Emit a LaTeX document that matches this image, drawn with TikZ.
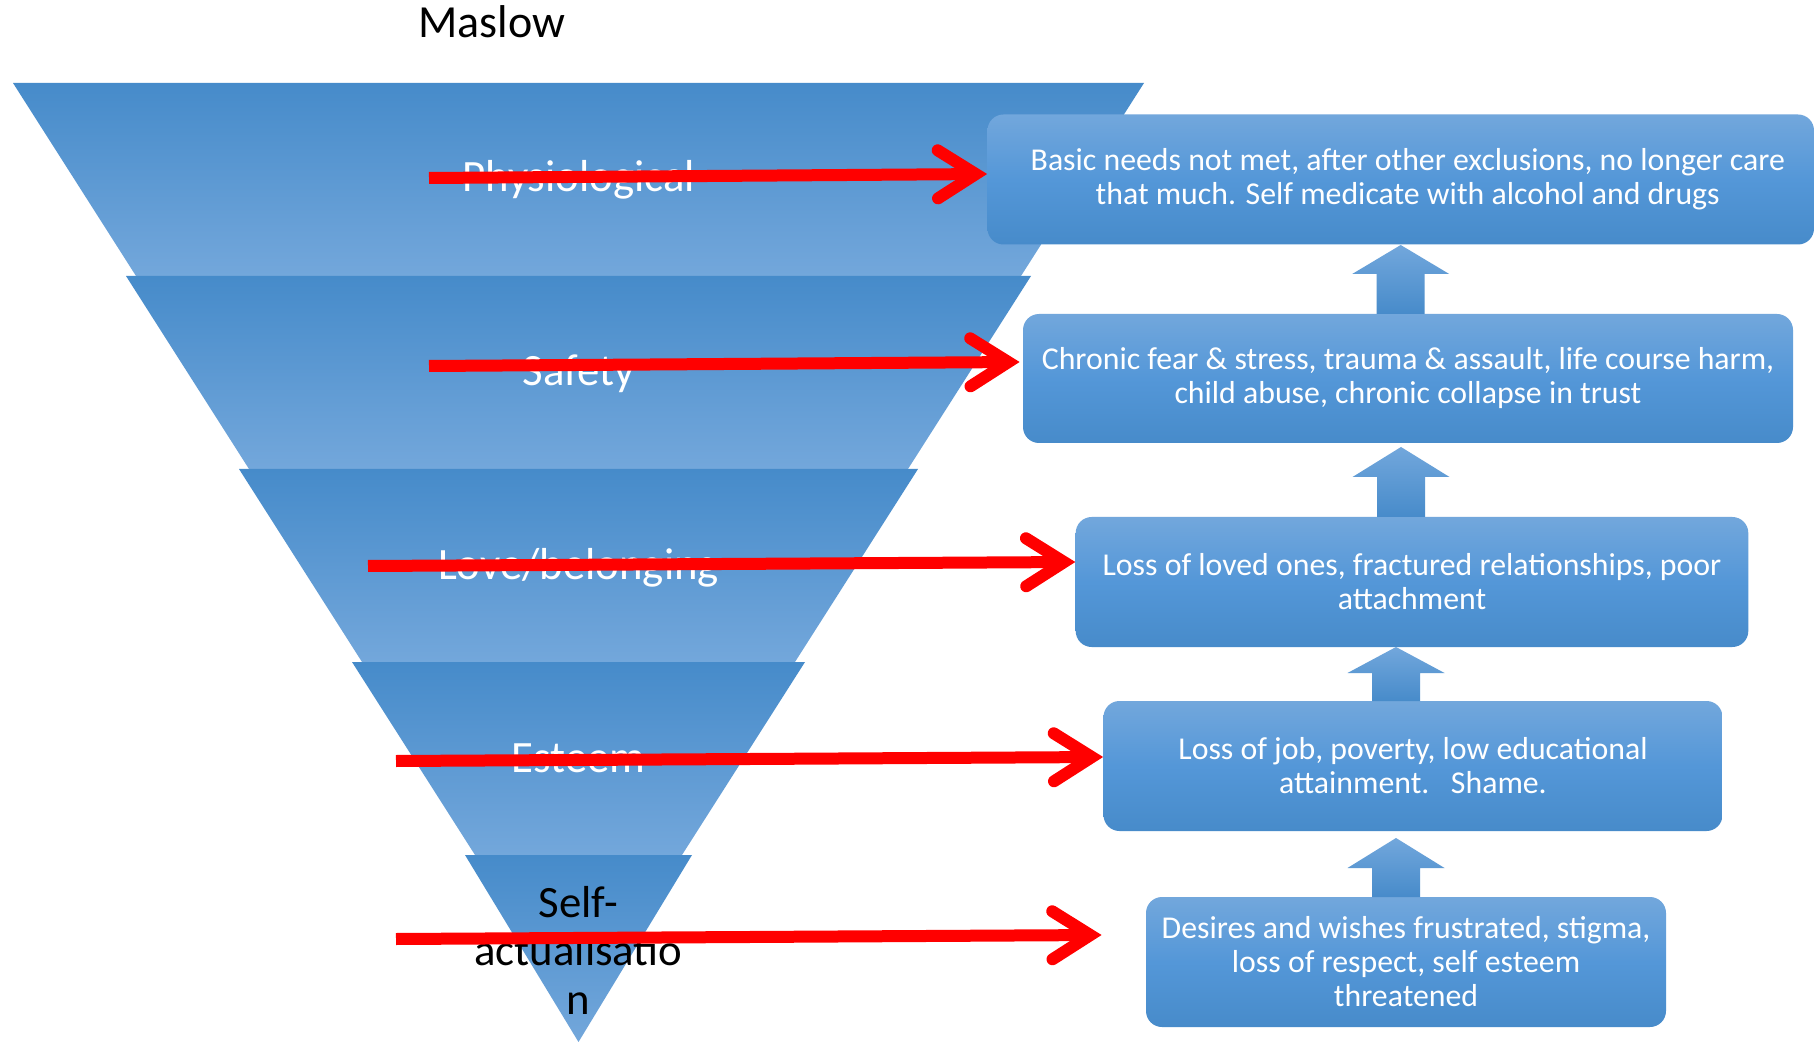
\documentclass[tikz,border=0pt]{standalone}
\usepackage{fontspec}
\setmainfont{Carlito}
\usetikzlibrary{arrows.meta}
\definecolor{bandtop}{RGB}{70,139,202}
\definecolor{bandbot}{RGB}{115,167,219}
\definecolor{boxtop}{RGB}{114,167,220}
\definecolor{boxmid}{RGB}{84,151,216}
\definecolor{boxbot}{RGB}{71,139,202}
\definecolor{redarr}{RGB}{255,0,0}
\newcommand{\FunnelBand}[5]{% top y, bottom y, top half width, bottom half width
  \shade[top color=bandtop,bottom color=bandbot] (578.5-#3,#1) -- (578.5+#3,#1) -- (578.5+#4,#2) -- (578.5-#4,#2) -- cycle;}
\newcommand{\UpArr}[4]{% centre x, tip y, head base y, bottom y
  \shade[top color=boxtop,bottom color=boxbot] (#1-24,#4) -- (#1-24,#3) -- (#1-48.5,#3) -- (#1,#2) -- (#1+48.5,#3) -- (#1+24,#3) -- (#1+24,#4) -- cycle;}
\begin{document}
\begin{tikzpicture}[x=0.5pt,y=-0.5pt,
  boxnode/.style={rounded corners=8pt, top color=boxtop, bottom color=boxbot, middle color=boxmid,
    text=white, align=center, font=\fontsize{15.9}{17}\selectfont, inner sep=0pt},
  lbl/.style={text=white, font=\fontsize{22.4}{24.25}\selectfont, inner sep=0pt},
  redarrow/.style={draw=redarr, line width=6pt,
    -{Straight Barb[length=19pt,width=24pt,line cap=round,line join=miter]}}]
\useasboundingbox (0,0) rectangle (1814,1042);
\clip (0,0) rectangle (1814,1042);
\fill[white] (0,0) rectangle (1814,1042);

% title
\node[font=\fontsize{23}{27}\selectfont, anchor=base, inner sep=0pt] (title) at (492,38) {Maslow};

% funnel
\FunnelBand{83}{276}{565.5}{442.5}{}
\FunnelBand{276}{469}{452.5}{329.5}{}
\FunnelBand{469}{662}{339.5}{216.5}{}
\FunnelBand{662}{855}{226.5}{103.5}{}
\FunnelBand{855}{1042}{113.5}{0}{}

% funnel labels
\node[lbl, anchor=base] (l1) at (578.5,192) {Physiological};
\node[lbl, anchor=base] (l2) at (578.5,386) {Safety};
\node[lbl, anchor=base] (l3) at (578.5,579) {Love/belonging};
\node[lbl, anchor=base] (l4) at (578.5,772) {Esteem};
\node[lbl, text=black, align=center] (l5) at (578.5,950) {Self-\\actualisatio\\n};

% boxes
\node[boxnode, minimum width=413.25pt, minimum height=65pt] (b1) at (1400.75,179.5)
  {\hspace*{7pt}Basic needs not met, after other exclusions, no longer care\\\hspace*{7pt}that much. Self medicate with alcohol and drugs};
\node[boxnode, minimum width=385pt, minimum height=64.5pt] (b2) at (1408,378.5)
  {Chronic fear \& stress, trauma \& assault, life course harm,\\child abuse, chronic collapse in trust};
\node[boxnode, minimum width=336.3pt, minimum height=65pt] (b3) at (1412,582)
  {Loss of loved ones, fractured relationships, poor\\attachment};
\node[boxnode, minimum width=309.5pt, minimum height=65pt] (b4) at (1413,766)
  {Loss of job, poverty, low educational\\attainment.\ \ \ Shame.};
\node[boxnode, minimum width=260pt, minimum height=65pt] (b5) at (1406,962)
  {Desires and wishes frustrated, stigma,\\loss of respect, self esteem\\threatened};

% up arrows
\UpArr{1400.7}{245}{274}{314}
\UpArr{1401}{447}{477}{517}
\UpArr{1396}{647}{673}{701}
\UpArr{1396}{838}{868}{897}

% red arrows
\coordinate (r1) at (429,178);
\coordinate (r2) at (429,366);
\coordinate (r3) at (368,566);
\coordinate (r4) at (396,761);
\coordinate (r5) at (396,939);
\draw[redarrow] (r1) -- ([yshift=2.75pt]b1.west);
\draw[redarrow] (r2) -- ([xshift=-1.5pt,yshift=8.25pt]b2.west);
\draw[redarrow] (r3) -- ([yshift=10pt]b3.west);
\draw[redarrow] (r4) -- ([yshift=4.5pt]b4.west);
\draw[redarrow] (r5) -- ([xshift=-22pt,yshift=13.5pt]b5.west);
\end{tikzpicture}
\end{document}
